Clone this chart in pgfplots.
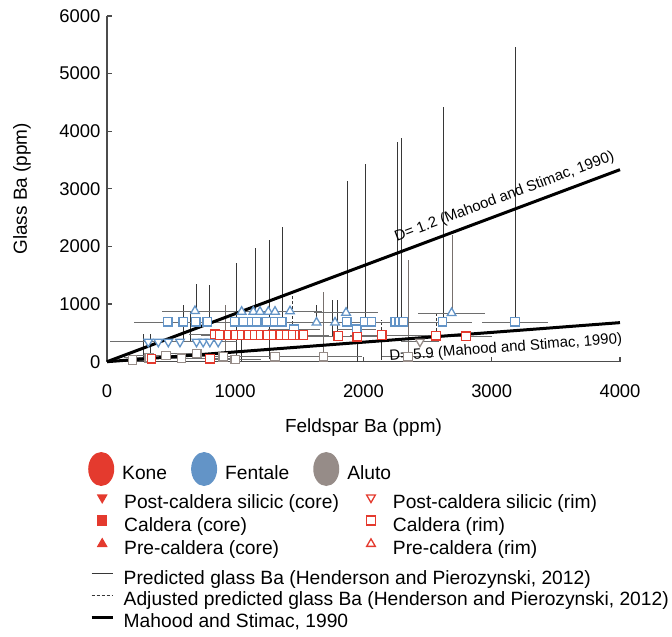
\documentclass[border=0pt]{standalone}
\usepackage{fontspec}
\setmainfont{Liberation Sans}
\usepackage{pgfplots}
\pgfplotsset{compat=1.18}
\definecolor{kone}{RGB}{228,58,46}
\definecolor{fent}{RGB}{99,148,199}
\definecolor{aluto}{RGB}{150,140,136}
\definecolor{ebar}{RGB}{110,110,110}
\definecolor{pred}{RGB}{55,55,55}
\pgfplotsset{
  ebars/.style={error bars/.cd, x dir=both, x explicit, error mark=none,
     error bar style={ebar, line width=0.7bp}},
  osq/.style={only marks, mark=square*, mark size=4.2bp, mark options={fill=white, line width=1.3bp, draw=#1}},
  otri/.style={only marks, mark=triangle*, mark size=5bp, mark options={fill=white, line width=1.3bp, draw=#1}},
  odtri/.style={only marks, mark=triangle*, mark size=5bp, mark options={fill=white, line width=1.3bp, draw=#1, rotate=180}},
  ellimg/.style={legend image code/.code={\path[draw=none, fill=none] (0bp,-12bp) rectangle (34bp,12bp); \fill[#1, draw=none] (13bp,5bp) ellipse [x radius=13bp, y radius=17bp];}},
  mkimg/.style={legend image code/.code={\path[draw=none, fill=none] (0bp,-7bp) rectangle (32bp,7bp); \draw[kone, line width=1.3bp, #1] plot coordinates {(10bp,5bp)};}},
  lnimg/.style={legend image code/.code={\path[draw=none, fill=none] (0bp,-5bp) rectangle (32bp,5bp); \draw[#1] (0bp,5bp) -- (21bp,5bp);}},
  hid/.style={at={(0bp,0bp)}, anchor=south west, width=513bp, height=345.7bp, scale only axis, hide axis, xmin=0, xmax=1, ymin=0, ymax=1},
}
\begin{document}
\fontsize{19}{22}\selectfont
\begin{tikzpicture}
\useasboundingbox (-107bp,-275.3bp) rectangle (565bp,361.7bp);
\begin{axis}[
  at={(0bp,0bp)}, anchor=south west,
  width=513bp, height=345.7bp, scale only axis,
  xmin=0, xmax=4000, ymin=0, ymax=6000,
  axis x line*=bottom, axis y line*=left,
  axis line style={-, draw=black!70, line width=1.4bp},
  xtick={0,1000,2000,3000,4000}, ytick={0,1000,...,6000},
  tick align=inside, major tick length=5bp,
  every tick/.style={black!70, line width=1.2bp},
  /pgf/number format/1000 sep={},
  /pgf/number format/assume math mode=true,
  tick label style={font=\fontsize{18.5}{22}\selectfont},
  xticklabel style={yshift=-16bp},
  every axis x label/.style={at={(axis description cs:0.5,-0.2034)}, anchor=base},
  every axis y label/.style={at={(axis description cs:-0.1657,0.5)}, rotate=90, anchor=center},
  label style={font=\fontsize{19}{22}\selectfont},
  xlabel={Feldspar Ba (ppm)}, ylabel={Glass Ba (ppm)},
  clip=false,
]
% predicted glass Ba (vertical lines)
\addplot[pred, line width=0.9bp, unbounded coords=jump] coordinates {
 (1871,840) (1871,3137) (1871,nan)
 (2012,690) (2012,3432) (2012,nan)
 (2261,690) (2261,3814) (2261,nan)
 (2292,690) (2292,3884) (2292,nan)
 (2620,690) (2620,4422) (2620,nan)
 (3181,690) (3181,5464) (3181,nan)
 (694,880) (694,1349) (694,nan)
 (795,690) (795,1332) (795,nan)
 (1006,20) (1006,1714) (1006,nan)
 (1154,868) (1154,1974) (1154,nan)
 (1264,40) (1264,2113) (1264,nan)
 (1365,690) (1365,2339) (1365,nan)
 (1637,680) (1637,984) (1637,nan)
 (1754,446) (1754,1071) (1754,nan)
 (1793,446) (1793,1071) (1793,nan)
 (600,345) (600,984) (600,nan)
 (647,345) (647,862) (647,nan)
 (281,0) (281,480) (281,nan)
 (335,50) (335,480) (335,nan)
 (1050,20) (1050,463) (1050,nan)
 (1952,0) (1952,434) (1952,nan)
 (2142,30) (2142,463) (2142,nan)
};
\addplot[aluto!80!black, line width=0.9bp, unbounded coords=jump] coordinates {
 (1684,87) (1684,1210) (1684,nan)
 (2347,87) (2347,1766) (2347,nan)
 (2690,845) (2690,2200) (2690,nan)
 (920,87) (920,984) (920,nan)
};
% adjusted predicted glass Ba
\addplot[pred, line width=0.9bp, densely dashed, unbounded coords=jump] coordinates {
 (1443,565) (1443,1158) (1443,nan)
 (2137,463) (2137,725) (2137,nan)
 (2570,452) (2570,845) (2570,nan)
};
% Aluto
\addplot[osq=aluto, ebars] coordinates {
 (200,30) +- (150,0) (330,70) +- (200,0) (460,110) +- (250,0) (580,60) +- (200,0)
 (700,140) +- (250,0) (907,87) +- (300,0) (1000,40) +- (200,0) (1310,87) +- (250,0)
 (1687,87) +- (300,0) (2347,87) +- (200,0)
};
\addplot[odtri=aluto, ebars] coordinates {(2440,347) +- (150,0)};
% Fentale
\addplot[odtri=fent, ebars] coordinates {
 (322,345) +- (300,0) (400,345) +- (150,0) (478,345) +- (150,0) (569,345) +- (150,0)
 (698,345) +- (200,0) (750,345) +- (150,0) (802,345) +- (150,0) (867,345) +- (150,0)
};
\addplot[otri=fent, ebars] coordinates {
 (686,880) +- (260,0) (1050,868) +- (200,0) (1141,868) +- (180,0) (1193,868) +- (200,0)
 (1258,868) +- (220,0) (1310,868) +- (200,0) (1427,875) +- (250,0) (1634,680) +- (150,0)
 (1778,680) +- (200,0) (1864,850) +- (250,0) (2687,845) +- (260,0)
};
\addplot[osq=fent, ebars] coordinates {
 (473,690) +- (260,0) (595,690) +- (350,0) (692,690) +- (300,0) (782,690) +- (320,0)
 (998,690) +- (350,0) (1063,690) +- (850,0) (1128,690) +- (400,0) (1167,690) +- (250,0)
 (1245,690) +- (300,0) (1310,690) +- (350,0) (1362,690) +- (700,0) (1458,565) +- (200,0)
 (1869,690) +- (300,0) (1947,565) +- (150,0) (2011,690) +- (350,0) (2063,690) +- (250,0)
 (2246,690) +- (300,0) (2279,690) +- (200,0) (2310,690) +- (250,0) (2617,690) +- (230,0)
 (3181,690) +- (260,0)
};
% Kone
\addplot[osq=kone, ebars] coordinates {
 (348,50) +- (120,0) (803,50) +- (200,0) (842,476) +- (200,0) (880,463) +- (150,0)
 (950,463) +- (180,0) (1000,463) +- (150,0) (1050,463) +- (200,0) (1100,463) +- (150,0)
 (1150,463) +- (180,0) (1200,463) +- (150,0) (1250,463) +- (200,0) (1300,463) +- (150,0)
 (1350,463) +- (180,0) (1400,463) +- (150,0) (1450,463) +- (200,0) (1500,463) +- (150,0)
 (1530,463) +- (200,0) (1803,446) +- (250,0) (1952,434) +- (200,0) (2142,463) +- (250,0)
 (2565,452) +- (200,0) (2799,445) +- (200,0)
};
% Mahood and Stimac lines
\addplot[black, line width=3bp] coordinates {(0,0) (4000,3333)}
  node[pos=0.785, sloped, above, font=\fontsize{15}{18}\selectfont] {D= 1.2 (Mahood and Stimac, 1990)};
\addplot[black, line width=3bp] coordinates {(0,0) (4000,678)}
  node[pos=0.775, sloped, below=2bp, font=\fontsize{15}{18}\selectfont] {D= 5.9 (Mahood and Stimac, 1990)};
\end{axis}
% legend: volcanoes
\begin{axis}[hid, legend columns=3, legend cell align=left,
  legend style={at={(axis description cs:-0.037,-0.3104)}, anchor=west, draw=none, fill=none,
    inner sep=0pt, font=\fontsize{19.3}{22}\selectfont, nodes={inner sep=0pt},
    /tikz/every odd column/.style={column sep=0bp},
    /tikz/every even column/.style={column sep=24bp}}]
\addlegendimage{ellimg=kone}\addlegendentry{Kone}
\addlegendimage{ellimg=fent}\addlegendentry{Fentale}
\addlegendimage{ellimg=aluto}\addlegendentry{Aluto}
\end{axis}
% legend: markers
\begin{axis}[hid, legend columns=2, legend cell align=left,
  legend style={at={(axis description cs:-0.0292,-0.3827)}, anchor=north west, draw=none, fill=none,
    inner sep=0pt, font=\fontsize{19.3}{22}\selectfont, nodes={inner sep=0pt},
    row sep=5bp,
    /tikz/every odd column/.style={column sep=0bp},
    /tikz/every even column/.style={column sep=22bp}}]
\addlegendimage{mkimg={mark=triangle*, mark size=5bp, mark options={rotate=180, fill=kone}}}\addlegendentry{Post-caldera silicic (core)}
\addlegendimage{mkimg={mark=triangle*, mark size=5bp, mark options={rotate=180, fill=white}}}\addlegendentry{Post-caldera silicic (rim)}
\addlegendimage{mkimg={mark=square*, mark size=4.5bp, mark options={fill=kone}}}\addlegendentry{Caldera (core)}
\addlegendimage{mkimg={mark=square*, mark size=4.5bp, mark options={fill=white}}}\addlegendentry{Caldera (rim)}
\addlegendimage{mkimg={mark=triangle*, mark size=5bp, mark options={fill=kone}}}\addlegendentry{Pre-caldera (core)}
\addlegendimage{mkimg={mark=triangle*, mark size=5bp, mark options={fill=white}}}\addlegendentry{Pre-caldera (rim)}
\end{axis}
% legend: lines
\begin{axis}[hid, legend columns=1, legend cell align=left,
  legend style={at={(axis description cs:-0.0331,-0.6026)}, anchor=north west, draw=none, fill=none,
    inner sep=0pt, font=\fontsize{19.3}{22}\selectfont, nodes={inner sep=0pt},
    row sep=5bp,
    /tikz/every odd column/.style={column sep=0bp}}]
\addlegendimage{lnimg={pred, line width=0.8bp}}\addlegendentry{Predicted glass Ba (Henderson and Pierozynski, 2012)}
\addlegendimage{lnimg={pred, line width=0.8bp, densely dashed}}\addlegendentry{Adjusted predicted glass Ba (Henderson and Pierozynski, 2012)}
\addlegendimage{lnimg={black, line width=3bp}}\addlegendentry{Mahood and Stimac, 1990}
\end{axis}
\end{tikzpicture}
\end{document}
